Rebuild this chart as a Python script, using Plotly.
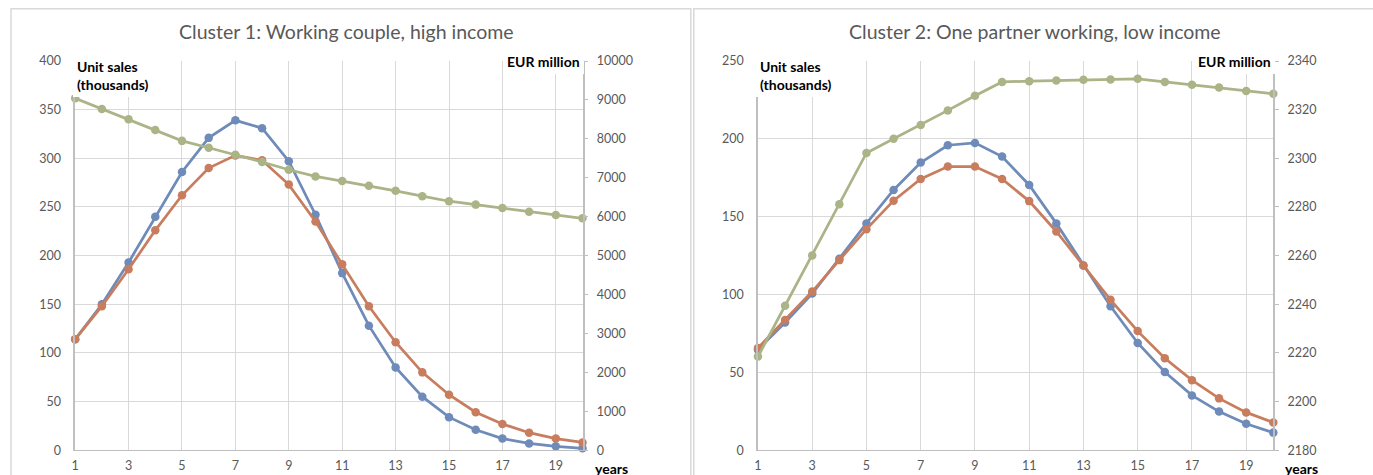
import plotly.graph_objects as go

# Years on the category axis
years = list(range(1, 21))
year_ticks = [1, 3, 5, 7, 9, 11, 13, 15, 17, 19]

# Cluster 1: working couple, high income
c1_units_a = [114, 150, 193, 240, 286, 321, 339, 331, 297, 242,
              182, 128, 85, 55, 34, 21, 12, 7, 4, 2]
c1_units_b = [114, 148, 186, 226, 262, 290, 303, 298, 273, 235,
              191, 148, 111, 80, 57, 39, 27, 18, 12, 8]
c1_eur = [9043, 8765, 8504, 8226, 7948, 7770, 7590, 7405, 7207, 7034,
          6914, 6793, 6664, 6526, 6397, 6310, 6224, 6129, 6043, 5957]

# Cluster 2: one partner working, low income
c2_units_a = [64.6, 82, 100.6, 123, 145.7, 167.2, 184.8, 195.9, 197.4, 188.6,
              170.4, 145.7, 118.7, 92.5, 68.9, 50.2, 35.2, 24.8, 17, 11.3]
c2_units_b = [65.7, 83.7, 101.9, 122.1, 142, 160.3, 174.2, 182.2, 182.2, 174.2,
              160, 140.5, 118.7, 96.6, 76.5, 59.1, 45, 33.3, 24.3, 17.8]
c2_eur = [2218.5, 2239.4, 2260, 2281.1, 2302.2, 2308, 2313.7, 2319.7, 2325.7, 2331.4,
          2331.7, 2332, 2332.3, 2332.4, 2332.7, 2331.4, 2330.2, 2329.1, 2327.7, 2326.5]

titles = ["Cluster 1: Working couple, high income",
          "Cluster 2: One partner working, low income"]

BLUE = "#6e8bb9"
ORANGE = "#c87e5e"
GREEN = "#aab487"
GRID = "#d9d9d9"
AXIS = "#bfbfbf"
TXT = "#595959"
FONT = "Lato"

W, H = 1381, 492

# Placement helpers: screen-pixel positions -> paper fractions
SX, SY, OY = 0.9945, 0.964, 9.3


def px(x):
    return (x / SX) / W


def py(y):
    return 1 - ((y - OY) / SY) / H


fig = go.Figure()


def add_series(xa, ya, ya2, units_a, units_b, eur):
    style = dict(mode="lines+markers", cliponaxis=False, showlegend=False,
                 line_width=2.75, marker_size=8.5)
    fig.add_trace(go.Scatter(x=years, y=eur, xaxis=xa, yaxis=ya2, name="EUR million",
                             line_color=GREEN, marker_color=GREEN, **style))
    fig.add_trace(go.Scatter(x=years, y=units_a, xaxis=xa, yaxis=ya, name="Unit sales A",
                             line_color=BLUE, marker_color=BLUE, **style))
    fig.add_trace(go.Scatter(x=years, y=units_b, xaxis=xa, yaxis=ya, name="Unit sales B",
                             line_color=ORANGE, marker_color=ORANGE, **style))


add_series("x", "y", "y2", c1_units_a, c1_units_b, c1_eur)
add_series("x2", "y3", "y4", c2_units_a, c2_units_b, c2_eur)

tickfont = dict(family=FONT, size=12.5, color=TXT)
ydom = [py(449), py(62)]

xcommon = dict(range=[1, 20], tickvals=year_ticks, showgrid=True, gridcolor=GRID,
               gridwidth=1, showline=True, linecolor=AXIS, linewidth=1.2,
               zeroline=False, ticks="", tickfont=tickfont, ticklabelstandoff=4)
yleft = dict(showgrid=True, gridcolor=GRID, gridwidth=1, showline=True,
             linecolor=AXIS, linewidth=1.5, zeroline=False, ticks="",
             tickfont=tickfont, ticklabelstandoff=10, domain=ydom)
yright = dict(showgrid=False, showline=True, linecolor=AXIS, linewidth=1.5,
              zeroline=False, ticks="outside", ticklen=4, tickcolor=AXIS,
              tickfont=tickfont, ticklabelstandoff=6, side="right",
              tickformat="d")

fig.update_layout(
    width=W, height=H,
    margin=dict(l=0, r=0, t=0, b=0),
    paper_bgcolor="white", plot_bgcolor="white",
    font=dict(family=FONT, color=TXT),
    xaxis=dict(domain=[px(71), px(577)], anchor="y", **xcommon),
    yaxis=dict(anchor="x", range=[0, 400], dtick=50, **yleft),
    yaxis2=dict(anchor="x", overlaying="y", range=[0, 10000], dtick=1000, **yright),
    xaxis2=dict(domain=[px(752), px(1266)], anchor="y3", **xcommon),
    yaxis3=dict(anchor="x2", range=[0, 250], dtick=50, **yleft),
    yaxis4=dict(anchor="x2", overlaying="y3", range=[2180, 2340], dtick=20, **yright),
)

# Chart-area frames
for x0, x1 in [(7, 685), (688, 1367)]:
    fig.add_shape(type="rect", xref="paper", yref="paper",
                  x0=px(x0), x1=px(x1), y0=-0.02, y1=py(10),
                  line=dict(color=GRID, width=1.5), fillcolor="rgba(0,0,0,0)",
                  layer="below")

bold = dict(family=FONT, size=14, color="black")
panels = [
    dict(cx=342, ax_l=71, ax_r=577),
    dict(cx=1028, ax_l=752, ax_r=1266),
]
for p, title in zip(panels, titles):
    fig.add_annotation(text=title, xref="paper", yref="paper",
                       x=px(p["cx"]), y=py(33), xanchor="center", yanchor="middle",
                       showarrow=False, font=dict(family=FONT, size=19.5, color=TXT))
    fig.add_annotation(text="<b>Unit sales</b><br><b>(thousands)</b>", xref="paper", yref="paper",
                       x=px(p["ax_l"] - 2), y=py(55), xanchor="left", yanchor="top",
                       align="left", showarrow=False, font=bold, bgcolor="white",
                       borderwidth=0, borderpad=4)
    fig.add_annotation(text="<b>EUR million</b>", xref="paper", yref="paper",
                       x=px(p["ax_r"] + 1.5), y=py(62), xanchor="right", yanchor="middle",
                       showarrow=False, font=bold, bgcolor="white",
                       borderwidth=0, borderpad=4)
    fig.add_annotation(text="<b>years</b>", xref="paper", yref="paper",
                       x=px(p["ax_r"] + 10), y=py(467), xanchor="left", yanchor="middle",
                       showarrow=False, font=bold)

fig.write_html("out.html")
